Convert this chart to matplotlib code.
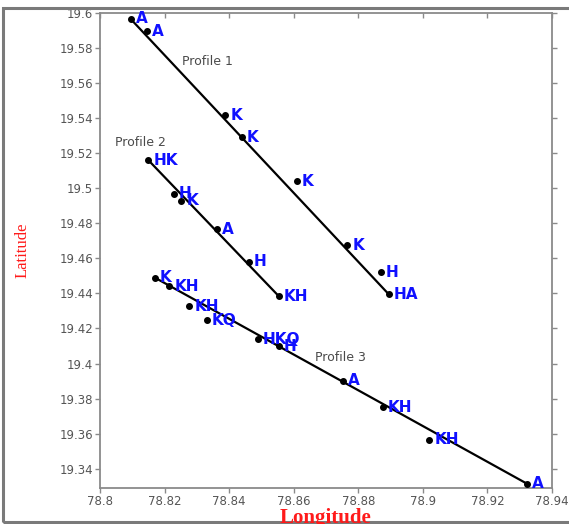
import numpy as np
import matplotlib
matplotlib.use("Agg")
import matplotlib.pyplot as plt
from matplotlib.patches import Rectangle

# profile 1
p1_lon = [78.8095, 78.8145, 78.8388, 78.8440, 78.8610, 78.8766, 78.8870, 78.8895]
p1_lat = [19.5966, 19.5897, 19.5417, 19.5290, 19.5040, 19.4674, 19.4520, 19.4394]
p1_lab = ['A', 'A', 'K', 'K', 'K', 'K', 'H', 'HA']

# profile 2
p2_lon = [78.8150, 78.8228, 78.8252, 78.8363, 78.8460, 78.8554]
p2_lat = [19.5160, 19.4970, 19.4930, 19.4766, 19.4580, 19.4384]
p2_lab = ['HK', 'H', 'K', 'A', 'H', 'KH']

# profile 3
p3_lon = [78.8170, 78.8215, 78.8277, 78.8330, 78.8490, 78.8554, 78.8754, 78.8877, 78.9020, 78.9323]
p3_lat = [19.4490, 19.4440, 19.4326, 19.4246, 19.4140, 19.4100, 19.3903, 19.3750, 19.3566, 19.3314]
p3_lab = ['K', 'KH', 'KH', 'KQ', 'HKQ', 'H', 'A', 'KH', 'KH', 'A']

profile_names = ['Profile 1', 'Profile 2', 'Profile 3']
name_pos = [(78.8255, 19.5726), (78.8045, 19.5263), (78.8665, 19.4035)]

x_ticks = [78.8, 78.82, 78.84, 78.86, 78.88, 78.9, 78.92, 78.94]
y_ticks = [19.34, 19.36, 19.38, 19.4, 19.42, 19.44, 19.46, 19.48, 19.5, 19.52, 19.54, 19.56, 19.58, 19.6]

W, H = 569, 524
fig = plt.figure(figsize=(W / 100, H / 100), dpi=100)
ax = fig.add_axes([100 / W, 1 - 488 / H, 452 / W, 475 / H])

grey = '#8a8a8a'
for lon, lat, lab in [(p1_lon, p1_lat, p1_lab), (p2_lon, p2_lat, p2_lab), (p3_lon, p3_lat, p3_lab)]:
    # straight profile line between the end stations
    ax.plot([lon[0], lon[-1]], [lat[0], lat[-1]], color='black', lw=1.6, zorder=2)
    ax.plot(lon, lat, 'o', color='black', ms=4, zorder=3)
    for x, y, t in zip(lon, lat, lab):
        ax.annotate(t, (x, y), xytext=(3.5, 0), textcoords='offset points',
                    ha='left', va='center', color='#1010ff', fontsize=11,
                    fontweight='bold', zorder=4)

for name, (x, y) in zip(profile_names, name_pos):
    ax.text(x, y, name, fontsize=9, color='#4a4a4a', ha='left', va='center')

ax.set_xlim(78.8, 78.94)
ax.set_ylim(19.329, 19.6)
ax.set_xticks(x_ticks)
ax.set_yticks(y_ticks)
ax.set_xticklabels(['{:g}'.format(v) for v in x_ticks])
ax.set_yticklabels(['{:g}'.format(v) for v in y_ticks])

for s in ax.spines.values():
    s.set_color(grey)
    s.set_linewidth(1.3)
ax.tick_params(axis='both', direction='out', colors=grey, labelcolor='#555555',
               labelsize=8.5, length=3.5, width=1, pad=1.5)
ax.tick_params(axis='y', right=True)
ax.tick_params(axis='x', top=True)
# top ticks point inward
for tk in ax.xaxis.get_major_ticks():
    tk.tick2line.set_marker(3)

fig.text(23 / W, 1 - 250 / H, 'Latitude', rotation=90, color='#ff1a1a',
         family='Liberation Serif', fontsize=12, ha='center', va='center')
fig.text(325 / W, 1 - 508 / H, 'Longitude', color='#ff1a1a',
         family='Liberation Serif', fontsize=15, fontweight='bold',
         ha='center', va='top')

# outer grey frame
fig.patches.append(Rectangle((3 / W, 1 - 522 / H), 575 / W, 514 / H,
                             transform=fig.transFigure, fill=False,
                             edgecolor='#7a7a7a', lw=2.2))

fig.savefig('out.png', dpi=100)
